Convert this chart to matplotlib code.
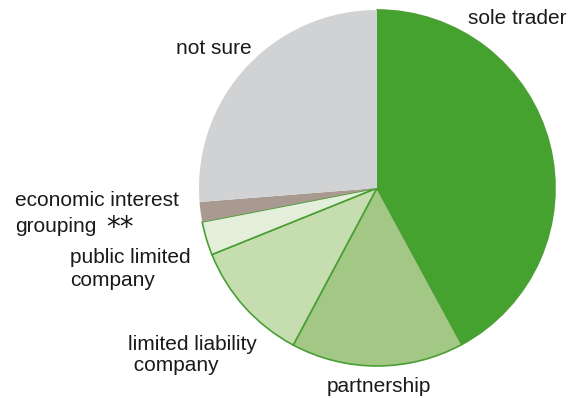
import matplotlib
matplotlib.use("Agg")
import matplotlib.pyplot as plt

# business form shares (%), clockwise from 12 o'clock
categories = ["sole trader", "partnership", "limited liability company",
              "public limited company", "economic interest grouping", "not sure"]
shares = [42.1, 15.7, 11.1, 3.05, 1.8, 26.25]
colors = ["#46a22f", "#a3c785", "#c6ddb0", "#e3efda", "#a99a91", "#d1d2d4"]
edged = [True, True, True, True, False, False]

fig = plt.figure(figsize=(5.78, 3.98), dpi=100)
ax = fig.add_axes([0, 0, 1, 1])

wedges, _ = ax.pie(shares, colors=colors, startangle=90, counterclock=False,
                   center=(377, 210), radius=178)
for w, e in zip(wedges, edged):
    if e:
        w.set_edgecolor("#4a9f34")
        w.set_linewidth(1.2)
    else:
        w.set_edgecolor("none")

# pixel-like data coordinates for the whole figure
ax.set_xlim(0, 578)
ax.set_ylim(0, 398)
ax.set_aspect("equal")
ax.axis("off")

font = dict(family="Liberation Sans", fontsize=15, color="#1a1a1a")
ax.text(468, 380, "sole trader", ha="left", va="center", **font)
ax.text(176, 350, "not sure", ha="left", va="center", **font)
ax.text(15, 198, "economic interest", ha="left", va="center", **font)
ax.text(15, 172, "grouping", ha="left", va="center", **font)
ax.text(106, 170, "**", ha="left", va="center", family="DejaVu Sans",
        fontsize=20, color="#1a1a1a")
ax.text(70, 129, "public limited\ncompany", ha="left", va="center",
        linespacing=1.25, **font)
ax.text(128, 43, "limited liability\n company", ha="left", va="center",
        linespacing=1.15, **font)
ax.text(327, 11, "partnership", ha="left", va="center", **font)

fig.savefig("out.png", dpi=100)
